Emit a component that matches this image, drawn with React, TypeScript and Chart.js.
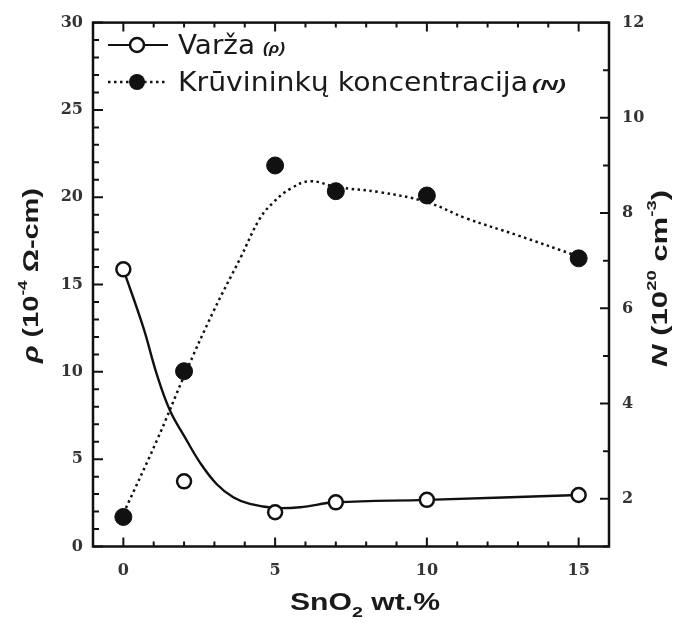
import React, { useEffect, useRef } from "react";
import { Chart, registerables } from "chart.js";

Chart.register(...registerables);

// ---- data ----
const xWt = [0, 2, 5, 7, 10, 15];
const rho = [15.87, 3.73, 1.96, 2.53, 2.67, 2.95];
const carrierN = [1.62, 4.68, 9.0, 8.46, 8.37, 7.05];

// guide curves (as drawn in the figure)
const rhoFitX = [0, 0.66, 1.1, 1.54, 2.03, 2.52, 3.07, 3.62, 4.17, 5.0, 5.82, 7.0, 10.0, 15];
const rhoFitY = [15.87, 12.53, 9.87, 7.77, 6.25, 4.82, 3.58, 2.82, 2.44, 2.21, 2.25, 2.53, 2.67, 2.95];
const nFitX = [0, 1.1, 2.03, 2.97, 3.85, 4.5, 4.95, 5.5, 6.15, 7.0, 8.45, 10.0, 11.3, 12.96, 15];
const nFitY = [1.69, 3.22, 4.62, 5.94, 7.05, 7.89, 8.23, 8.51, 8.67, 8.55, 8.44, 8.23, 7.89, 7.54, 7.09];

// tick labels
const xTickValues = [0, 5, 10, 15];
const rhoTickValues = [0, 5, 10, 15, 20, 25, 30];
const nTickValues = [2, 4, 6, 8, 10, 12];

const legendLabels = ["Varža", "Krūvininkų koncentracija"];
const legendSymbols = ["(ρ)", "(N)"];

type Seg = { text: string; font: string; dy?: number };

function drawRich(ctx: CanvasRenderingContext2D, segs: Seg[], x: number, y: number, angle: number, targetLen?: number) {
  ctx.save();
  let total = 0;
  const widths = segs.map((s) => {
    ctx.font = s.font;
    const w = ctx.measureText(s.text).width;
    total += w;
    return w;
  });
  const sx = targetLen ? targetLen / total : 1;
  ctx.translate(x, y);
  ctx.rotate(angle);
  ctx.scale(sx, 1);
  ctx.textAlign = "left";
  ctx.textBaseline = "alphabetic";
  ctx.fillStyle = "#1a1a1a";
  let cx = 0;
  segs.forEach((s, i) => {
    ctx.font = s.font;
    ctx.fillText(s.text, cx, s.dy || 0);
    cx += widths[i];
  });
  ctx.restore();
}

const framePlugin = {
  id: "framePlugin",
  afterDatasetsDraw(chart: any) {
    const ctx: CanvasRenderingContext2D = chart.ctx;
    const { left, right, top, bottom } = chart.chartArea;
    const xs = chart.scales.x;
    const yL = chart.scales.y;
    const yR = chart.scales.y1;
    ctx.save();
    ctx.strokeStyle = "#111";
    ctx.lineWidth = 2;
    ctx.beginPath();
    for (let v = Math.ceil(xs.min); v <= xs.max; v++) {
      const px = xs.getPixelForValue(v);
      const len = v % 5 === 0 ? 9 : 5;
      ctx.moveTo(px, bottom);
      ctx.lineTo(px, bottom - len);
      ctx.moveTo(px, top);
      ctx.lineTo(px, top + len);
    }
    for (let v = Math.ceil(yL.min); v <= yL.max; v++) {
      const py = yL.getPixelForValue(v);
      const len = v % 5 === 0 ? 10 : 6;
      ctx.moveTo(left, py);
      ctx.lineTo(left + len, py);
    }
    for (let v = Math.ceil(yR.min); v <= yR.max; v++) {
      const py = yR.getPixelForValue(v);
      const len = v % 2 === 0 ? 9 : 6;
      ctx.moveTo(right, py);
      ctx.lineTo(right - len, py);
    }
    ctx.stroke();
    ctx.lineWidth = 2.5;
    ctx.strokeRect(left, top, right - left, bottom - top);

    // legend
    const lx0 = 108, lx1 = 168, lcx = 137;
    const r1 = 45, r2 = 82;
    ctx.lineWidth = 2.2;
    ctx.setLineDash([]);
    ctx.beginPath();
    ctx.moveTo(lx0, r1);
    ctx.lineTo(lx1, r1);
    ctx.stroke();
    ctx.beginPath();
    ctx.arc(lcx, r1, 7, 0, Math.PI * 2);
    ctx.fillStyle = "#fff";
    ctx.fill();
    ctx.lineWidth = 2.5;
    ctx.stroke();
    ctx.lineWidth = 2.5;
    ctx.setLineDash([2.5, 3.5]);
    ctx.beginPath();
    ctx.moveTo(lx0, r2);
    ctx.lineTo(lx1, r2);
    ctx.stroke();
    ctx.setLineDash([]);
    ctx.beginPath();
    ctx.arc(lcx, r2, 8, 0, Math.PI * 2);
    ctx.fillStyle = "#111";
    ctx.fill();
    ctx.restore();

    const lf = "27px 'DejaVu Sans'";
    const sf = "italic bold 15px 'Liberation Sans'";
    drawRich(ctx, [{ text: legendLabels[0], font: lf }], 178, 54, 0, 77);
    drawRich(ctx, [{ text: legendSymbols[0], font: sf }], 263, 53, 0, 22);
    drawRich(ctx, [{ text: legendLabels[1], font: lf }], 178, 91, 0, 350);
    drawRich(ctx, [{ text: legendSymbols[1], font: sf }], 532, 90, 0, 34);

    // axis titles
    const tf = "bold 22px 'Liberation Sans'";
    const tfi = "italic bold 22px 'Liberation Sans'";
    const supf = "bold 13px 'Liberation Sans'";
    drawRich(
      ctx,
      [
        { text: "ρ", font: tfi },
        { text: " (10", font: tf },
        { text: "-4", font: supf, dy: -11 },
        { text: " Ω-cm)", font: tf },
      ],
      38, 363, -Math.PI / 2, 175
    );
    drawRich(
      ctx,
      [
        { text: "N", font: tfi },
        { text: " (10", font: tf },
        { text: "20", font: supf, dy: -11 },
        { text: " cm", font: tf },
        { text: "-3", font: supf, dy: -11 },
        { text: ")", font: tf },
      ],
      667, 367, -Math.PI / 2, 177
    );
    drawRich(
      ctx,
      [
        { text: "SnO", font: "bold 23px 'Liberation Sans'" },
        { text: "2", font: "bold 15px 'Liberation Sans'", dy: 7 },
        { text: " wt.%", font: "bold 23px 'Liberation Sans'" },
      ],
      290, 610, 0, 150
    );
  },
};

export default function App() {
  const ref = useRef<HTMLCanvasElement | null>(null);
  useEffect(() => {
    if (!ref.current) return;
    const tickFont = { family: "'DejaVu Serif'", size: 16, weight: "bold" };
    const chart = new Chart(ref.current, {
      type: "scatter",
      data: {
        datasets: [
          {
            label: legendLabels[0],
            data: xWt.map((x, i) => ({ x, y: rho[i] })),
            yAxisID: "y",
            showLine: false,
            pointRadius: 7,
            pointBorderWidth: 2.5,
            pointBackgroundColor: "#fff",
            pointBorderColor: "#111",
          },
          {
            label: legendLabels[1],
            data: xWt.map((x, i) => ({ x, y: carrierN[i] })),
            yAxisID: "y1",
            showLine: false,
            pointRadius: 8.5,
            pointBorderWidth: 1,
            pointBackgroundColor: "#111",
            pointBorderColor: "#111",
          },
          {
            label: "rho fit",
            data: rhoFitX.map((x, i) => ({ x, y: rhoFitY[i] })),
            yAxisID: "y",
            showLine: true,
            pointRadius: 0,
            borderColor: "#111",
            borderWidth: 2.4,
            tension: 0.4,
          },
          {
            label: "N fit",
            data: nFitX.map((x, i) => ({ x, y: nFitY[i] })),
            yAxisID: "y1",
            showLine: true,
            pointRadius: 0,
            borderColor: "#111",
            borderWidth: 2.5,
            borderDash: [2.5, 3.5],
            tension: 0.4,
          },
        ] as any,
      },
      options: {
        animation: false,
        responsive: false,
        devicePixelRatio: 1,
        layout: { padding: { top: 20.5, left: 0, right: 0, bottom: 0 } },
        plugins: { legend: { display: false }, tooltip: { enabled: false } },
        events: [],
        scales: {
          x: {
            type: "linear",
            position: "bottom",
            min: -1,
            max: 16,
            grid: { display: false, drawTicks: false },
            border: { display: false },
            ticks: { font: tickFont, color: "#333", padding: 15, maxRotation: 0 },
            afterBuildTicks: (s: any) => {
              s.ticks = xTickValues.map((v) => ({ value: v }));
            },
            afterFit: (s: any) => {
              s.height = 77.5;
            },
          },
          y: {
            type: "linear",
            position: "left",
            min: 0,
            max: 30,
            grid: { display: false, drawTicks: false },
            border: { display: false },
            ticks: { font: tickFont, color: "#333", padding: 10 },
            afterBuildTicks: (s: any) => {
              s.ticks = rhoTickValues.map((v) => ({ value: v }));
            },
            afterFit: (s: any) => {
              s.width = 93;
            },
          },
          y1: {
            type: "linear",
            position: "right",
            min: 1,
            max: 12,
            grid: { display: false, drawTicks: false },
            border: { display: false },
            ticks: { font: tickFont, color: "#333", padding: 13 },
            afterBuildTicks: (s: any) => {
              s.ticks = nTickValues.map((v) => ({ value: v }));
            },
            afterFit: (s: any) => {
              s.width = 69;
            },
          },
        },
      } as any,
      plugins: [framePlugin],
    });
    return () => chart.destroy();
  }, []);
  return (
    <div style={{ position: "absolute", left: 0, top: 0, width: 678, height: 624, background: "#fff" }}>
      <canvas ref={ref} width={678} height={624} style={{ display: "block" }} />
    </div>
  );
}
